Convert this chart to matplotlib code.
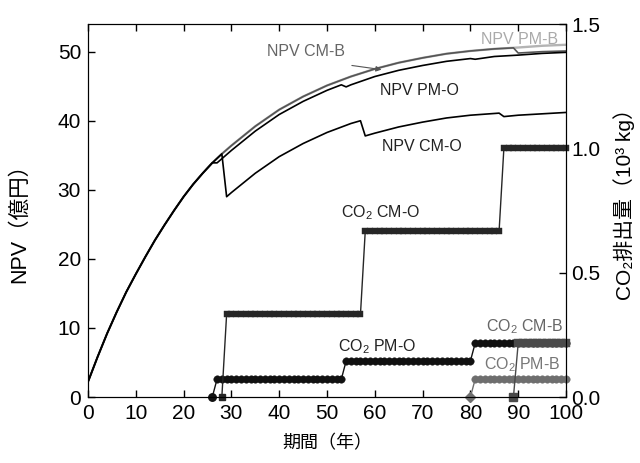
import matplotlib
matplotlib.use("Agg")
import matplotlib.pyplot as plt

plt.rcParams['font.family'] = ['Liberation Sans', 'Noto Sans CJK JP', 'DejaVu Sans']
plt.rcParams['mathtext.fontset'] = 'custom'
plt.rcParams['mathtext.rm'] = 'Liberation Sans'
plt.rcParams['mathtext.it'] = 'Liberation Sans:italic'

# NPV (億円) -- all four strategies share the curve up to year 26
early_years = [0, 2, 4, 6, 8, 10, 12, 14, 16, 18, 20, 22, 24, 26]
early_npv = [2.2, 5.8, 9.2, 12.3, 15.2, 17.8, 20.3, 22.7, 24.9, 27.0, 29.0, 30.8, 32.4, 33.9]

pmb_years = early_years + [28, 30, 35, 40, 45, 50, 55, 60, 65, 70, 75, 80, 85, 90, 95, 100]
pmb_npv = early_npv + [35.2, 36.4, 39.2, 41.6, 43.5, 45.1, 46.4, 47.5, 48.4, 49.1, 49.7,
                       50.1, 50.4, 50.6, 50.85, 51.0]

cmb_years = early_years + [28, 30, 35, 40, 45, 50, 55, 60, 65, 70, 75, 80, 85, 89, 90, 95, 100]
cmb_npv = early_npv + [35.2, 36.4, 39.2, 41.6, 43.5, 45.1, 46.4, 47.5, 48.4, 49.1, 49.7,
                       50.1, 50.4, 50.55, 49.8, 50.0, 50.1]

pmo_years = early_years + [27, 28, 30, 35, 40, 45, 50, 53, 54, 55, 60, 65, 70, 75, 80, 81,
                           85, 90, 95, 100]
pmo_npv = early_npv + [33.9, 34.5, 35.7, 38.5, 40.9, 42.8, 44.4, 45.2, 44.9, 45.2, 46.4,
                       47.3, 48.0, 48.6, 49.0, 48.9, 49.3, 49.5, 49.75, 49.9]

cmo_years = early_years + [28, 29, 30, 35, 40, 45, 50, 55, 57, 58, 60, 65, 70, 75, 80, 86,
                           87, 90, 95, 100]
cmo_npv = early_npv + [35.2, 29.0, 29.6, 32.4, 34.8, 36.7, 38.3, 39.6, 40.0, 37.8, 38.2,
                       39.1, 39.8, 40.4, 40.8, 41.1, 40.6, 40.8, 41.0, 41.2]

# cumulative CO2 (10^3 kg): first replacement year, then start year of each level
co2_cmo_first, co2_cmo_starts, co2_cmo_levels = 28, [29, 58, 87], [0.333, 0.667, 1.0]
co2_pmo_first, co2_pmo_starts, co2_pmo_levels = 26, [27, 54, 81], [0.072, 0.145, 0.217]
co2_cmb_first, co2_cmb_starts, co2_cmb_levels = 89, [90], [0.217]
co2_pmb_first, co2_pmb_starts, co2_pmb_levels = 80, [81], [0.072]
last_year = 100


def yearly(first, starts, levels):
    years, vals = [first], [0.0]
    for i, s in enumerate(starts):
        stop = starts[i + 1] if i + 1 < len(starts) else last_year + 1
        years += list(range(s, stop))
        vals += [levels[i]] * (stop - s)
    return years, vals


fig = plt.figure(figsize=(6.4, 4.63), dpi=100)
ax = fig.add_axes([0.1375, 0.1425, 0.7469, 0.8056])
ax2 = ax.twinx()

ax.plot(pmb_years, pmb_npv, color='#b4b4b4', lw=1.7)
ax.plot(cmb_years, cmb_npv, color='#555555', lw=1.2)
ax.plot(pmo_years, pmo_npv, color='black', lw=1.2)
ax.plot(cmo_years, cmo_npv, color='black', lw=1.2)

co2 = [
    (co2_pmb_first, co2_pmb_starts, co2_pmb_levels, '#6e6e6e', 'o', 5.4, 'D', 5.0),
    (co2_pmo_first, co2_pmo_starts, co2_pmo_levels, '#111111', 'o', 5.4, 'o', 5.4),
    (co2_cmo_first, co2_cmo_starts, co2_cmo_levels, '#262626', 's', 5.0, 's', 4.8),
    (co2_cmb_first, co2_cmb_starts, co2_cmb_levels, '#4a4a4a', 's', 6.2, 's', 5.8),
]
for first, starts, levels, c, m, ms, m0, ms0 in co2:
    yrs, vals = yearly(first, starts, levels)
    ax2.plot(yrs, vals, color=c, lw=1, clip_on=False)
    ax2.plot(yrs[1:], vals[1:], ls='none', marker=m, ms=ms, color=c, mec=c, mew=0.3,
             clip_on=False)
    ax2.plot(yrs[:1], vals[:1], ls='none', marker=m0, ms=ms0, color=c, clip_on=False)

ax.set_xlim(0, 100)
ax.set_ylim(0, 54)
ax2.set_ylim(0, 1.5)
ax.set_xticks(range(0, 101, 10))
ax.set_yticks(range(0, 51, 10))
ax2.set_yticks([0.0, 0.5, 1.0, 1.5])
ax2.set_yticklabels(['0.0', '0.5', '1.0', '1.5'])
ax.tick_params(direction='in', length=5, width=1, top=True, labelsize=15, pad=5)
ax2.tick_params(direction='in', length=5, width=1, labelsize=15, pad=4)

ax.set_xlabel('期間（年）', fontsize=13, labelpad=9)
ax.set_ylabel('NPV（億円）', fontsize=15.5)
ax.yaxis.set_label_coords(-0.12, 0.48)
ax2.set_ylabel('CO₂排出量（10³ kg）', fontsize=15)
ax2.yaxis.set_label_coords(1.098, 0.53)

tk = dict(fontsize=11.5, ha='center', va='center')
ax.text(45.6, 50.0, 'NPV CM-B', color='#666666', **tk)
ax.text(90.2, 51.8, 'NPV PM-B', color='#aaaaaa', **tk)
ax.text(69.4, 44.4, 'NPV PM-O', color='#222222', **tk)
ax.text(69.8, 36.2, 'NPV CM-O', color='#222222', **tk)
ax.text(61.3, 26.7, 'CO$_\\mathrm{2}$ CM-O', color='#222222', **tk)
ax.text(60.4, 7.3, 'CO$_\\mathrm{2}$ PM-O', color='#222222', **tk)
ax.text(91.3, 10.2, 'CO$_\\mathrm{2}$ CM-B', color='#666666', **tk)
ax.text(90.9, 4.7, 'CO$_\\mathrm{2}$ PM-B', color='#777777', **tk)
ax.annotate('', xy=(61.4, 47.4), xytext=(55.2, 48.0),
            arrowprops=dict(arrowstyle='-|>', color='#555555', lw=0.8,
                            mutation_scale=8, shrinkA=0, shrinkB=0))

fig.savefig('out.png', dpi=100)
